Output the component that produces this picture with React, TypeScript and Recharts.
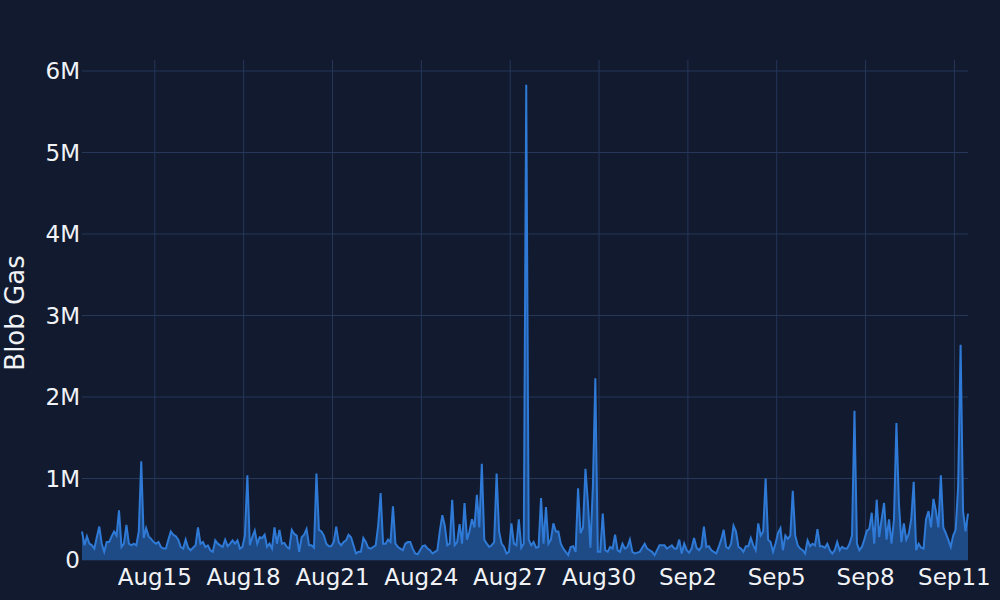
import React from "react";
import { AreaChart, Area, XAxis, YAxis, CartesianGrid } from "recharts";

// blob gas per 2h bucket, in millions, one row per 24h (starting Aug 12 13:00 UTC)
const BLOB_GAS_M = [
  0.35, 0.18, 0.29, 0.2, 0.18, 0.14, 0.28, 0.41, 0.2, 0.1, 0.22, 0.22,
  0.29, 0.35, 0.3, 0.61, 0.16, 0.2, 0.43, 0.2, 0.18, 0.2, 0.18, 0.35,
  1.21, 0.27, 0.39, 0.29, 0.26, 0.22, 0.2, 0.22, 0.16, 0.14, 0.14, 0.25,
  0.35, 0.31, 0.29, 0.25, 0.16, 0.14, 0.25, 0.15, 0.12, 0.15, 0.18, 0.4,
  0.2, 0.22, 0.16, 0.18, 0.12, 0.1, 0.24, 0.2, 0.18, 0.16, 0.25, 0.17,
  0.2, 0.24, 0.2, 0.24, 0.14, 0.16, 0.3, 1.04, 0.18, 0.28, 0.36, 0.2,
  0.28, 0.27, 0.31, 0.16, 0.2, 0.14, 0.4, 0.2, 0.37, 0.2, 0.21, 0.16,
  0.14, 0.37, 0.32, 0.3, 0.1, 0.28, 0.31, 0.38, 0.18, 0.18, 0.15, 1.06,
  0.37, 0.35, 0.3, 0.2, 0.17, 0.17, 0.22, 0.41, 0.22, 0.18, 0.22, 0.24,
  0.31, 0.28, 0.18, 0.08, 0.1, 0.1, 0.27, 0.22, 0.15, 0.14, 0.16, 0.18,
  0.42, 0.82, 0.2, 0.2, 0.25, 0.22, 0.66, 0.2, 0.16, 0.14, 0.12, 0.2,
  0.22, 0.22, 0.14, 0.08, 0.07, 0.12, 0.17, 0.18, 0.14, 0.12, 0.08, 0.1,
  0.12, 0.36, 0.55, 0.42, 0.18, 0.2, 0.74, 0.18, 0.22, 0.44, 0.2, 0.7,
  0.25, 0.35, 0.5, 0.4, 0.8, 0.4, 1.18, 0.25, 0.2, 0.16, 0.18, 0.22,
  1.06, 0.35, 0.2, 0.16, 0.08, 0.1, 0.45, 0.2, 0.18, 0.5, 0.15, 0.2,
  5.83, 0.25, 0.18, 0.22, 0.15, 0.16, 0.76, 0.2, 0.65, 0.2, 0.25, 0.45,
  0.35, 0.35, 0.2, 0.14, 0.1, 0.06, 0.16, 0.17, 0.1, 0.88, 0.33, 0.4,
  1.12, 0.7, 0.15, 0.9, 2.23, 0.1, 0.1, 0.57, 0.12, 0.1, 0.16, 0.14,
  0.31, 0.12, 0.1, 0.2, 0.14, 0.16, 0.25, 0.1, 0.08, 0.09, 0.1, 0.15,
  0.2, 0.14, 0.12, 0.1, 0.06, 0.12, 0.18, 0.18, 0.18, 0.14, 0.16, 0.18,
  0.14, 0.14, 0.25, 0.08, 0.2, 0.12, 0.09, 0.14, 0.27, 0.15, 0.12, 0.16,
  0.41, 0.16, 0.17, 0.12, 0.1, 0.08, 0.16, 0.25, 0.37, 0.16, 0.14, 0.2,
  0.42, 0.35, 0.16, 0.14, 0.1, 0.17, 0.17, 0.27, 0.18, 0.12, 0.45, 0.3,
  0.35, 1.0, 0.25, 0.22, 0.1, 0.2, 0.33, 0.39, 0.12, 0.3, 0.26, 0.3,
  0.85, 0.3, 0.18, 0.14, 0.12, 0.08, 0.24, 0.17, 0.2, 0.18, 0.38, 0.17,
  0.17, 0.15, 0.2, 0.12, 0.08, 0.12, 0.22, 0.12, 0.16, 0.14, 0.14, 0.2,
  0.3, 1.83, 0.2, 0.12, 0.16, 0.25, 0.36, 0.38, 0.58, 0.2, 0.74, 0.28,
  0.5, 0.7, 0.25, 0.5, 0.2, 0.5, 1.68, 0.7, 0.22, 0.45, 0.25, 0.32,
  0.5, 0.96, 0.12, 0.2, 0.15, 0.14, 0.5, 0.6, 0.4, 0.75, 0.6, 0.4,
  1.04, 0.4, 0.33, 0.25, 0.16, 0.3, 0.37, 0.9, 2.64, 0.6, 0.35, 0.57,
];

const START = Date.UTC(2024, 7, 12, 13);
const STEP = 2 * 3600 * 1000;

const TICK_DATES = [
  [7, 15], [7, 18], [7, 21], [7, 24], [7, 27], [7, 30],
  [8, 2], [8, 5], [8, 8], [8, 11],
];
const MONTHS = ["Jan", "Feb", "Mar", "Apr", "May", "Jun", "Jul", "Aug", "Sep", "Oct", "Nov", "Dec"];
const Y_TICKS = [0, 1e6, 2e6, 3e6, 4e6, 5e6, 6e6];

const BG = "#111a2e";
const GRID = "#26375a";
const LINE = "#2f7ad6";
const FILL = "#1e4a85";
const TEXT = "#f0f2f6";
const FONT = "'DejaVu Sans', Verdana, sans-serif";

const data = BLOB_GAS_M.map((v, i) => ({ t: START + i * STEP, gas: v * 1e6 }));
const xTicks = TICK_DATES.map(([m, d]) => Date.UTC(2024, m, d));

function fmtDate(t: number) {
  const d = new Date(t);
  return `${MONTHS[d.getUTCMonth()]}${d.getUTCDate()}`;
}

function fmtGas(v: number) {
  return v === 0 ? "0" : `${v / 1e6}M`;
}

function YTitle({ viewBox }: any) {
  const cy = (viewBox?.y ?? 60) + (viewBox?.height ?? 500) / 2 + 3;
  return (
    <text
      x={24}
      y={cy}
      transform={`rotate(-90, 24, ${cy})`}
      textAnchor="middle"
      fill={TEXT}
      fontSize={26}
      fontFamily={FONT}
    >
      Blob Gas
    </text>
  );
}

export default function App() {
  return (
    <div style={{ position: "absolute", left: 0, top: 0, width: 1000, height: 600, background: BG }}>
      <AreaChart width={1000} height={600} data={data} margin={{ top: 60, right: 32, bottom: 0, left: 0 }}>
        <CartesianGrid stroke={GRID} strokeWidth={1} syncWithTicks />
        <XAxis
          dataKey="t"
          type="number"
          domain={[data[0].t, data[data.length - 1].t]}
          ticks={xTicks}
          tickFormatter={fmtDate}
          axisLine={false}
          tickLine={false}
          tickSize={0}
          tickMargin={9}
          height={40}
          tick={{ fill: TEXT, fontSize: 23, fontFamily: FONT }}
        />
        <YAxis
          type="number"
          domain={[0, 6.135e6]}
          ticks={Y_TICKS}
          tickFormatter={fmtGas}
          axisLine={false}
          tickLine={false}
          tickSize={0}
          tickMargin={2}
          width={82}
          tick={{ fill: TEXT, fontSize: 23, fontFamily: FONT }}
          label={<YTitle />}
        />
        <Area
          type="linear"
          dataKey="gas"
          stroke={LINE}
          strokeWidth={2}
          fill={FILL}
          fillOpacity={1}
          isAnimationActive={false}
          dot={false}
          activeDot={false}
        />
      </AreaChart>
    </div>
  );
}
